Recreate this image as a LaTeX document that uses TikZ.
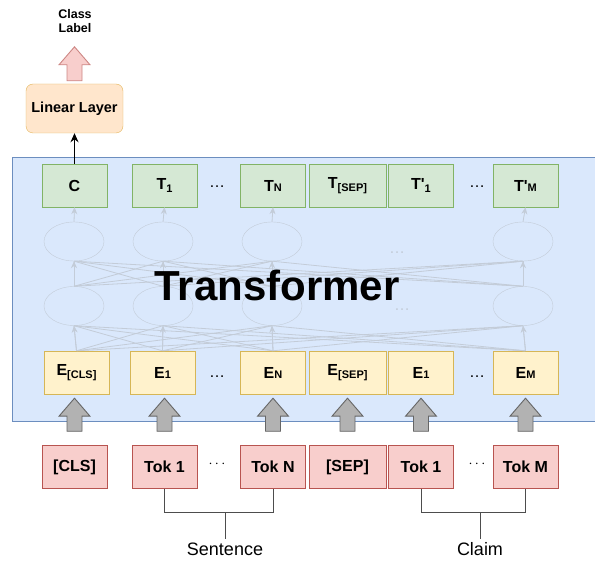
\documentclass[tikz,border=0pt]{standalone}
\usepackage{fontspec}
\setmainfont{Liberation Sans}
\usetikzlibrary{arrows.meta,calc,shapes.geometric}

\definecolor{bgblue}{HTML}{DAE8FC}
\definecolor{bgline}{HTML}{6C8EBF}
\definecolor{outfill}{HTML}{D5E8D4}
\definecolor{outline}{HTML}{82B366}
\definecolor{embfill}{HTML}{FFF2CC}
\definecolor{embline}{HTML}{D6B656}
\definecolor{tokfill}{HTML}{F8CECC}
\definecolor{tokline}{HTML}{B85450}
\definecolor{linfill}{HTML}{FFE6CC}
\definecolor{linline}{HTML}{E3B55A}
\definecolor{faint}{HTML}{C3CCD8}
\definecolor{brkline}{HTML}{4D4D4D}

\newcommand{\lsub}[1]{\raisebox{-3pt}{\fontsize{11}{11}\selectfont #1}}
\newcommand{\bsub}[1]{{\fontsize{11}{11}\selectfont #1}}
\newcommand{\fatarrow}[3]{%
  \path[#1] let \p1=(#2), \p2=(#3) in
    (\x1-7.5pt,\y1) -- (\x1-7.5pt,\y2-18pt) -- (\x1-15.5pt,\y2-18pt) -- (\x1,\y2)
    -- (\x1+15.5pt,\y2-18pt) -- (\x1+7.5pt,\y2-18pt) -- (\x1+7.5pt,\y1) -- cycle;}

\begin{document}
\begin{tikzpicture}[x=1pt,y=-1pt,
    box/.style={draw, minimum width=65pt, minimum height=43pt, inner sep=0pt,
      font=\bfseries\fontsize{16}{16}\selectfont},
    outbox/.style={box, fill=outfill, draw=outline},
    embbox/.style={box, fill=embfill, draw=embline},
    tokbox/.style={box, fill=tokfill, draw=tokline},
    cell/.style={ellipse, draw=faint, minimum width=60pt, minimum height=39pt, inner sep=0pt},
    link/.style={draw=faint, line width=0.8pt},
    uplink/.style={link, -{Stealth[length=7pt,width=6pt]}, fill=faint},
    graybig/.style={fill=gray!60, draw=black!60, line width=0.9pt},
    pinkbig/.style={fill=tokfill, draw=tokline!70, line width=0.9pt},
    bracket/.style={draw=brkline, line width=0.9pt},
    dots/.style={font=\fontsize{16}{16}\selectfont}]
  \useasboundingbox (0,0) rectangle (595,561);
  \draw[fill=bgblue, draw=bgline] (12,157) rectangle (600,421);

  \node[outbox] (c) at (74.5,185.5) {C};
  \node[outbox] (t1) at (164.5,185.5) {T\lsub{1}};
  \node[outbox] (tn) at (273,185.5) {T\bsub{N}};
  \node[outbox, minimum width=77pt] (tsep) at (347.5,185.5) {T\lsub{[SEP]}};
  \node[outbox] (tp1) at (421,185.5) {T\textquotesingle\lsub{1}};
  \node[outbox] (tpm) at (525.5,185.5) {T\textquotesingle\bsub{M}};
  \node[dots] at (217,187) {\ldots};
  \node[dots] at (477,187) {\ldots};

  \node[cell] (u1) at (74,241.5) {};
  \node[cell] (u2) at (163,241.5) {};
  \node[cell] (u3) at (272,241.5) {};
  \node[cell] (u4) at (523,241.5) {};
  \node[cell] (l1) at (74,306) {};
  \node[cell] (l2) at (163,306) {};
  \node[cell] (l3) at (272,306) {};
  \node[cell] (l4) at (523,306) {};
  \node[dots, text=faint, inner sep=0pt] at (397,253) {\ldots};
  \node[dots, text=faint, inner sep=0pt] at (402,310) {\ldots};

  \node[embbox] (ecls) at (76.5,372.5) {E\lsub{[CLS]}};
  \node[embbox] (e1) at (162.5,372.5) {E\bsub{1}};
  \node[embbox] (en) at (273,372.5) {E\bsub{N}};
  \node[embbox, minimum width=77pt] (esep) at (347.5,372.5) {E\lsub{[SEP]}};
  \node[embbox] (ep1) at (421,372.5) {E\bsub{1}};
  \node[embbox] (em) at (525.5,372.5) {E\bsub{M}};
  \node[dots] at (217,377) {\ldots};
  \node[dots] at (477,377) {\ldots};

  \foreach \a in {ecls,e1,en,em}
    \foreach \b in {l1,l2,l3,l4}
      \draw[link] (\a.north) -- (\b.south);
  \foreach \a in {l1,l2,l3,l4}
    \foreach \b in {u1,u2,u3,u4}
      \draw[link] (\a.north) -- (\b.south);
  \foreach \a/\b in {ecls/l1,e1/l2,en/l3,em/l4,l1/u1,l2/u2,l3/u3,l4/u4,u1/c,u2/t1,u3/tn,u4/tpm}
    \draw[uplink] (\a.north) -- (\b.south);

  \node[font=\bfseries\fontsize{42}{42}\selectfont, inner sep=0pt] (tf) at (277,285) {Transformer};

  \node[tokbox] (tcls) at (74.5,467) {[CLS]};
  \node[tokbox] (tk1) at (164.5,467) {Tok 1};
  \node[tokbox] (tkn) at (273,467) {Tok N};
  \node[tokbox, minimum width=77pt] (tksep) at (347.5,467) {[SEP]};
  \node[tokbox] (tkp1) at (421,467) {Tok 1};
  \node[tokbox] (tkm) at (525.5,467) {Tok M};
  \node[font=\fontsize{14}{14}\selectfont] at (217,464) {$\cdots$};
  \node[font=\fontsize{14}{14}\selectfont] at (477,464) {$\cdots$};

  \foreach \a/\b in {tcls/ecls,tk1/e1,tkn/en,tksep/esep,tkp1/ep1,tkm/em}
    \fatarrow{graybig}{$(\a.north)+(0,-14)$}{$(\b.south)+(0,4)$};

  \node[draw=linline, fill=linfill, rounded corners=7pt, minimum width=97pt,
    minimum height=49pt, font=\bfseries\fontsize{14.5}{14.5}\selectfont] (lin) at (74.5,108.5) {Linear Layer};
  \draw[line width=1.6pt, -{Stealth[length=9pt,width=8pt]}] (c.north) -- (lin.south);
  \node[font=\bfseries\fontsize{12.5}{14}\selectfont, align=center, inner sep=0pt] (cls) at (75,21) {Class\\Label};
  \fatarrow{pinkbig}{$(lin.north)+(0,-3)$}{$(cls.south)+(0,14)$};

  \node[font=\fontsize{18}{18}\selectfont] (sent) at (225,549) {Sentence};
  \node[font=\fontsize{18}{18}\selectfont] (claim) at (480,549) {Claim};
  \draw[bracket] (tk1.south) -- ++(0,24) coordinate (sb) -| (tkn.south);
  \draw[bracket] (sb -| sent.north) -- (sent.north);
  \draw[bracket] (tkp1.south) -- ++(0,24) coordinate (cb) -| (tkm.south);
  \draw[bracket] (cb -| claim.north) -- (claim.north);
\end{tikzpicture}
\end{document}
